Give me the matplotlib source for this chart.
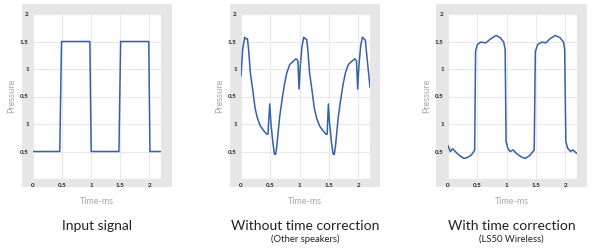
import matplotlib
matplotlib.use("Agg")
import matplotlib.pyplot as plt

BLUE, GRID, PANEL, LABEL, DARK = "#3461a8", "#e9e9e9", "#e6e6e6", "#a8a8a8", "#222222"
plt.rcParams.update({"font.family": ["Lato", "DejaVu Sans"]})

# y values are grid positions (0 = bottom edge, 6 = top "2" line)
ytick_pos = [1, 2, 3, 4, 5, 6]
ytick_labels = ["0.5", "1", "0.5", "1", "1.5", "2"]
xtick_pos = [0, 0.5, 1, 1.5, 2]
xtick_labels = ["0", "0.5", "1", "1.5", "2"]

input_t = [0, 0.46, 0.49, 0.977, 1.0, 1.477, 1.506, 1.99, 2.01, 2.2]
input_p = [1, 1, 5, 5, 1, 1, 5, 5, 1, 1]

other_t = [0, 0.03, 0.0625, 0.09, 0.11, 0.13, 0.16, 0.20, 0.24, 0.28, 0.33, 0.39, 0.44,
           0.46, 0.49, 0.51, 0.545, 0.57, 0.59, 0.61, 0.66, 0.70, 0.74, 0.78, 0.83, 0.89,
           0.94, 0.97, 0.99, 1.01, 1.04, 1.07, 1.10, 1.12, 1.14, 1.17, 1.21, 1.25, 1.29,
           1.34, 1.40, 1.45, 1.47, 1.49, 1.51, 1.545, 1.57, 1.59, 1.61, 1.66, 1.70, 1.74,
           1.78, 1.83, 1.89, 1.94, 1.97, 1.99, 2.01, 2.04, 2.07, 2.10, 2.12, 2.15, 2.2]
other_p = [3.75, 4.75, 5.15, 5.09, 5.1, 4.70, 3.85, 3.24, 2.58, 2.21, 1.93, 1.75, 1.63,
           1.63, 2.73, 2.03, 1.30, 0.91, 0.89, 1.18, 2.27, 2.88, 3.43, 3.85, 4.16, 4.28,
           4.37, 4.30, 3.27, 4.09, 4.82, 5.16, 5.09, 5.08, 4.70, 3.85, 3.24, 2.58, 2.21,
           1.93, 1.75, 1.63, 1.63, 2.73, 2.03, 1.30, 0.91, 0.89, 1.18, 2.27, 2.88, 3.43,
           3.85, 4.16, 4.28, 4.37, 4.30, 3.27, 4.09, 4.82, 5.16, 5.09, 5.05, 4.4, 3.34]

ls50_t = [0, 0.04, 0.08, 0.115, 0.18, 0.27, 0.33, 0.40, 0.44, 0.455, 0.47, 0.50, 0.56,
          0.645, 0.73, 0.82, 0.89, 0.95, 0.975, 0.99, 1.02, 1.06, 1.11, 1.16, 1.25, 1.32,
          1.39, 1.45, 1.47, 1.49, 1.53, 1.60, 1.67, 1.74, 1.83, 1.91, 1.97, 1.99, 2.01,
          2.04, 2.09, 2.13, 2.18, 2.2]
ls50_p = [1.21, 1.0, 1.10, 1.02, 0.88, 0.75, 0.78, 0.88, 1.0, 1.06, 4.64, 4.89, 4.98,
          4.95, 5.10, 5.22, 5.14, 4.98, 4.70, 1.37, 1.12, 1.0, 1.06, 0.94, 0.80, 0.75,
          0.85, 1.0, 1.06, 4.64, 4.89, 4.98, 4.95, 5.10, 5.22, 5.14, 4.98, 4.70, 1.37,
          1.12, 1.0, 1.06, 0.96, 0.93]

panels = [
    # (t, p, white left/right px, gray left/right px, title, subtitle)
    (input_t, input_p, 33, 161, 22, 172, "Input signal", None),
    (other_t, other_p, 241, 370, 230, 380, "Without time correction", "(Other speakers)"),
    (ls50_t, ls50_p, 448, 577, 436, 587, "With time correction", "(LS50 Wireless)"),
]

W, H = 600, 250
fig = plt.figure(figsize=(W / 100, H / 100), dpi=100)
fig.patch.set_facecolor("white")

top_px, bot_px = 14, 179
for t, p, wl, wr, gl, gr, title, sub in panels:
    # grey frame behind the plot area
    bg = fig.add_axes([gl / W, 1 - 187 / H, (gr - gl) / W, 183 / H], zorder=0)
    bg.set_facecolor(PANEL)
    bg.set_xticks([]); bg.set_yticks([])
    for s in bg.spines.values():
        s.set_visible(False)

    ax = fig.add_axes([wl / W, 1 - bot_px / H, (wr - wl) / W, (bot_px - top_px) / H], zorder=1)
    ax.set_facecolor("white")
    ax.plot(t, p, color=BLUE, lw=1.1, solid_joinstyle="round")
    ax.set_xlim(0, 2.2)
    ax.set_ylim(0, 6)
    ax.set_xticks(xtick_pos, xtick_labels)
    ax.set_yticks(ytick_pos, ytick_labels)
    ax.tick_params(length=0, labelsize=4.5, colors=DARK, pad=3)
    for lab in ax.get_xticklabels() + ax.get_yticklabels():
        lab.set_fontweight("bold")
    ax.grid(color=GRID, lw=0.8)
    ax.set_axisbelow(True)
    for s in ax.spines.values():
        s.set_visible(False)
    cx = (gl + gr) / 2 / W
    fig.text((wl - 21) / W, 1 - 96 / H, "Pressure", rotation=90, ha="center", va="center",
             fontsize=6.5, color=LABEL)
    fig.text(cx, 1 - 201 / H, "Time-ms", ha="center", va="center", fontsize=6.5, color=LABEL)
    fig.text(cx, 1 - 226 / H, title, ha="center", va="center", fontsize=10, color=DARK)
    if sub:
        fig.text(cx, 1 - 239 / H, sub, ha="center", va="center", fontsize=6.8, color=DARK)

fig.savefig("out.png", dpi=100, facecolor="white")
